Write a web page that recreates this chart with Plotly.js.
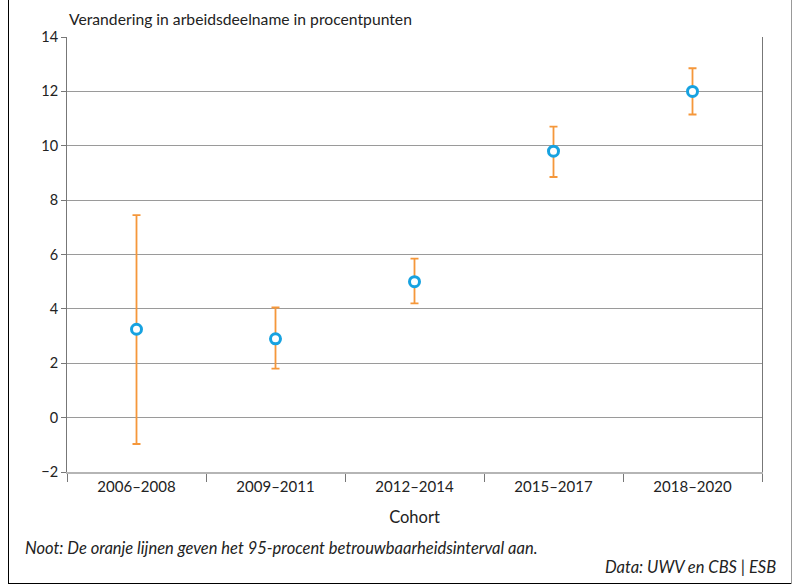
<!DOCTYPE html>
<html>
<head>
<meta charset="utf-8">
<script src="https://cdn.plot.ly/plotly-3.0.1.min.js"></script>
<style>
html,body{margin:0;padding:0;background:#fff;}
#wrap{position:relative;width:792px;height:584px;overflow:hidden;}
#chart{width:792px;height:584px;}
.bl{position:absolute;left:8px;top:0;width:1px;height:584px;background:#000;}
.bb{position:absolute;left:8px;top:583px;width:784px;height:1px;background:#000;}
.br{position:absolute;left:791px;top:0;width:1px;height:584px;background:#999;}
</style>
</head>
<body>
<div id="wrap">
<div id="chart"></div>
<div class="bl"></div><div class="bb"></div><div class="br"></div>
</div>
<script>
const categories = ["2006–2008", "2009–2011", "2012–2014", "2015–2017", "2018–2020"];
const values = [3.25, 2.9, 5.0, 9.8, 12.0];
const upper = [7.45, 4.05, 5.85, 10.7, 12.85];
const lower = [-0.97, 1.8, 4.2, 8.85, 11.15];
const yTicks = [-2, 0, 2, 4, 6, 8, 10, 12, 14];
const yTickLabels = ["−2", "0", "2", "4", "6", "8", "10", "12", "14"];

const plus = upper.map((u, i) => u - values[i]);
const minus = values.map((v, i) => v - lower[i]);

const font = "Lato, 'Open Sans', sans-serif";

const trace = {
  type: "scatter",
  mode: "markers",
  x: categories,
  y: values,
  marker: {symbol: "circle", size: 10, color: "#ffffff", line: {color: "#17a2e0", width: 3}},
  error_y: {type: "data", symmetric: false, array: plus, arrayminus: minus,
            color: "#f5973a", thickness: 1.8, width: 4},
  hoverinfo: "skip"
};

const layout = {
  width: 792, height: 584,
  margin: {l: 67, r: 30, t: 37, b: 112},
  paper_bgcolor: "#fff", plot_bgcolor: "#fff",
  showlegend: false,
  font: {family: font, size: 14, color: "#222"},
  xaxis: {
    type: "category", range: [-0.5, 4.5],
    tickson: "boundaries", ticks: "outside", ticklen: 8, tickcolor: "#777", tickwidth: 1,
    showgrid: false, showline: true, linecolor: "#b5b5b5", linewidth: 2,
    tickfont: {family: font, size: 15, color: "#222"},
    title: {text: "Cohort", font: {family: font, size: 16.5, color: "#222"}, standoff: 17},
    zeroline: false, fixedrange: true
  },
  yaxis: {
    range: [-2, 14], tickvals: yTicks, ticktext: yTickLabels,
    ticks: "outside", ticklen: 5, tickcolor: "#777",
    showline: true, linecolor: "#777", linewidth: 1, mirror: true,
    showgrid: true, gridcolor: "#9a9a9a", gridwidth: 1,
    zeroline: false,
    tickfont: {family: font, size: 14.5, color: "#222"}, fixedrange: true
  },
  annotations: [
    {text: "Verandering in arbeidsdeelname in procentpunten", xref: "paper", yref: "paper",
     x: 0, y: 1, yshift: 7, xanchor: "left", yanchor: "bottom", showarrow: false,
     font: {family: font, size: 15.7, color: "#222"}},
    {text: "<i>Noot: De oranje lijnen geven het 95-procent betrouwbaarheidsinterval aan.</i>",
     xref: "paper", yref: "paper", x: -0.064, y: -0.1747, xanchor: "left", yanchor: "middle",
     showarrow: false, font: {family: font, size: 16.5, color: "#222"}},
    {text: "<i>Data: UWV en CBS | ESB</i>",
     xref: "paper", yref: "paper", x: 1.023, y: -0.2184, xanchor: "right", yanchor: "middle",
     showarrow: false, font: {family: font, size: 16.5, color: "#222"}}
  ]
};

Plotly.newPlot("chart", [trace], layout, {displayModeBar: false, staticPlot: true});
</script>
</body>
</html>
